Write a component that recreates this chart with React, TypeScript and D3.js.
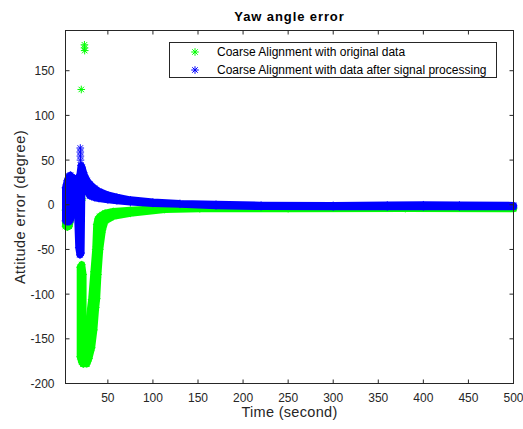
import React from 'react';
import * as d3 from 'd3';

const W = 523;
const H = 429;

const xTicks = [50, 100, 150, 200, 250, 300, 350, 400, 450, 500];
const yTicks = [-200, -150, -100, -50, 0, 50, 100, 150];

const seriesNames = [
  'Coarse Alignment with original data',
  'Coarse Alignment with data after signal processing',
];
const seriesColors = ['#00ff00', '#0000ff'];

// dense '*' markers: [time, lowest value, highest value]
const origStart = [
  [3, -24, -6], [5, -25, -5], [7, -24, -3], [9, -15, 0], [11, -6, 3],
  [14, 0, 6], [17, 3, 10], [19, 4, 12], [21, 5, 13],
];
const origDip = [
  [19.3, -170, -70], [21, -176, -67], [22.5, -178, -78],
];
const origMain = [
  [23, -178, -168], [26.6, -178, -151], [29, -172, -130], [32, -160, -106],
  [34.5, -140, -75], [36.5, -115, -50], [37.6, -105, -22], [39, -78, -16],
  [41, -50, -13], [44, -28, -11], [47, -18, -9.5], [56, -13, -7.5],
  [75, -9.6, -6], [113, -5.3, -4], [152, -4.5, -3.5], [250, -4.4, -3.3],
  [380, -4.3, -3.2], [500, -4.4, -3.3],
];
// single markers standing apart from the bands: [time, value]
const origSingles = [
  [20.5, 129], [24, 179], [24.1, 175.5], [24.3, 172.5], [20.8, 12], [21, 7],
];

const procMain = [
  [3, -18, 19], [5, -19, 27], [7, -19, 32], [8.5, -17, 33], [10, -4, 31],
  [12, -2, 30], [14, 0, 29], [16, 0, 29], [17.7, -48, 29], [19, -56, 34],
  [20.3, -54, 44], [21.3, 28, 42], [24, 20, 33], [27, 16, 27], [30, 10, 23],
  [35, 8, 18.5], [40, 7, 15], [50, 5.5, 11], [60, 4.5, 8.5], [75, 3, 5.5],
  [100, 1.5, 3], [130, 0.5, 1.5], [170, -1, 0.5], [220, -2, -0.5],
  [300, -2.3, -0.7], [360, -2.3, -0.3], [400, -2.2, 0], [440, -2.3, -0.3],
  [500, -2.3, -0.7],
];
const procSingles = [
  [19.4, 63.5], [19.4, 59], [19.5, 54.5], [19.6, 50],
];

const x = d3.scaleLinear().domain([3, 500]).range([65.5, 513.5]);
const y = d3.scaleLinear().domain([-200, 195]).range([383.5, 30.5]);

const band = d3
  .area<number[]>()
  .x((d) => x(d[0]))
  .y0((d) => y(d[1]))
  .y1((d) => y(d[2]));

// MATLAB style '*' marker
function star(cx: number, cy: number, r = 3.8) {
  const k = r * 0.72;
  return (
    `M${cx - r},${cy}h${2 * r}M${cx},${cy - r}v${2 * r}` +
    `M${cx - k},${cy - k}l${2 * k},${2 * k}M${cx - k},${cy + k}l${2 * k},${-2 * k}`
  );
}

function Band({ data, color }: { data: number[][]; color: string }) {
  const marks = data
    .flatMap((d) => [star(x(d[0]), y(d[1])), star(x(d[0]), y(d[2]))])
    .join('');
  return (
    <g>
      <path
        d={band(data) || ''}
        fill={color}
        stroke={color}
        strokeWidth={7}
        strokeLinejoin="round"
      />
      <path d={marks} fill="none" stroke={color} strokeWidth={1} />
    </g>
  );
}

function Singles({ data, color }: { data: number[][]; color: string }) {
  return (
    <path
      d={data.map((d) => star(x(d[0]), y(d[1]))).join('')}
      fill="none"
      stroke={color}
      strokeWidth={1}
    />
  );
}

export default function App() {
  const axisColor = '#262626';
  const [x0, x1] = x.range();
  const [y0, y1] = y.range();
  const font = '"Liberation Sans", Arial, Helvetica, sans-serif';
  return (
    <svg
      width={W}
      height={H}
      style={{ position: 'absolute', left: 0, top: 0, background: '#fff' }}
      fontFamily={font}
    >
      <rect x={0} y={0} width={W} height={H} fill="#fff" />
      <rect x={x0} y={y1} width={x1 - x0} height={y0 - y1} fill="#fff" />

      {/* green series */}
      <Band data={origStart} color={seriesColors[0]} />
      <Band data={origDip} color={seriesColors[0]} />
      <Band data={origMain} color={seriesColors[0]} />
      <Singles data={origSingles} color={seriesColors[0]} />

      {/* blue series */}
      <Band data={procMain} color={seriesColors[1]} />
      <Singles data={procSingles} color={seriesColors[1]} />

      {/* axes box */}
      <rect
        x={x0}
        y={y1}
        width={x1 - x0}
        height={y0 - y1}
        fill="none"
        stroke={axisColor}
        strokeWidth={1}
      />
      {xTicks.map((t) => (
        <g key={'x' + t}>
          <line x1={x(t)} x2={x(t)} y1={y0} y2={y0 - 4} stroke={axisColor} />
          <line x1={x(t)} x2={x(t)} y1={y1} y2={y1 + 4} stroke={axisColor} />
          <text
            x={x(t)}
            y={y0 + 18}
            textAnchor="middle"
            fontSize={12}
            fill={axisColor}
          >
            {t}
          </text>
        </g>
      ))}
      {yTicks.map((t) => (
        <g key={'y' + t}>
          <line x1={x0} x2={x0 + 4} y1={y(t)} y2={y(t)} stroke={axisColor} />
          <line x1={x1} x2={x1 - 4} y1={y(t)} y2={y(t)} stroke={axisColor} />
          <text
            x={x0 - 11}
            y={y(t) + 4.5}
            textAnchor="end"
            fontSize={12}
            fill={axisColor}
          >
            {t}
          </text>
        </g>
      ))}

      <text
        x={(x0 + x1) / 2}
        y={21}
        textAnchor="middle"
        fontSize={13}
        fontWeight="bold"
        letterSpacing={0.9}
        fill="#000"
      >
        Yaw angle error
      </text>
      <text
        x={(x0 + x1) / 2}
        y={417}
        textAnchor="middle"
        fontSize={14.5}
        letterSpacing={0.3}
        fill={axisColor}
      >
        Time (second)
      </text>
      <text
        transform={`translate(25,${(y0 + y1) / 2}) rotate(-90)`}
        textAnchor="middle"
        fontSize={14.5}
        letterSpacing={0.5}
        fill={axisColor}
      >
        Attitude error (degree)
      </text>

      {/* legend */}
      <g>
        <rect
          x={169.5}
          y={42.5}
          width={327}
          height={35}
          fill="#fff"
          stroke={axisColor}
          strokeWidth={1}
        />
        {seriesNames.map((name, i) => (
          <g key={name}>
            <path
              d={star(195, 52 + i * 18)}
              fill="none"
              stroke={seriesColors[i]}
              strokeWidth={1}
            />
            <text x={217} y={56 + i * 18} fontSize={12} fill="#000">
              {name}
            </text>
          </g>
        ))}
      </g>
    </svg>
  );
}
